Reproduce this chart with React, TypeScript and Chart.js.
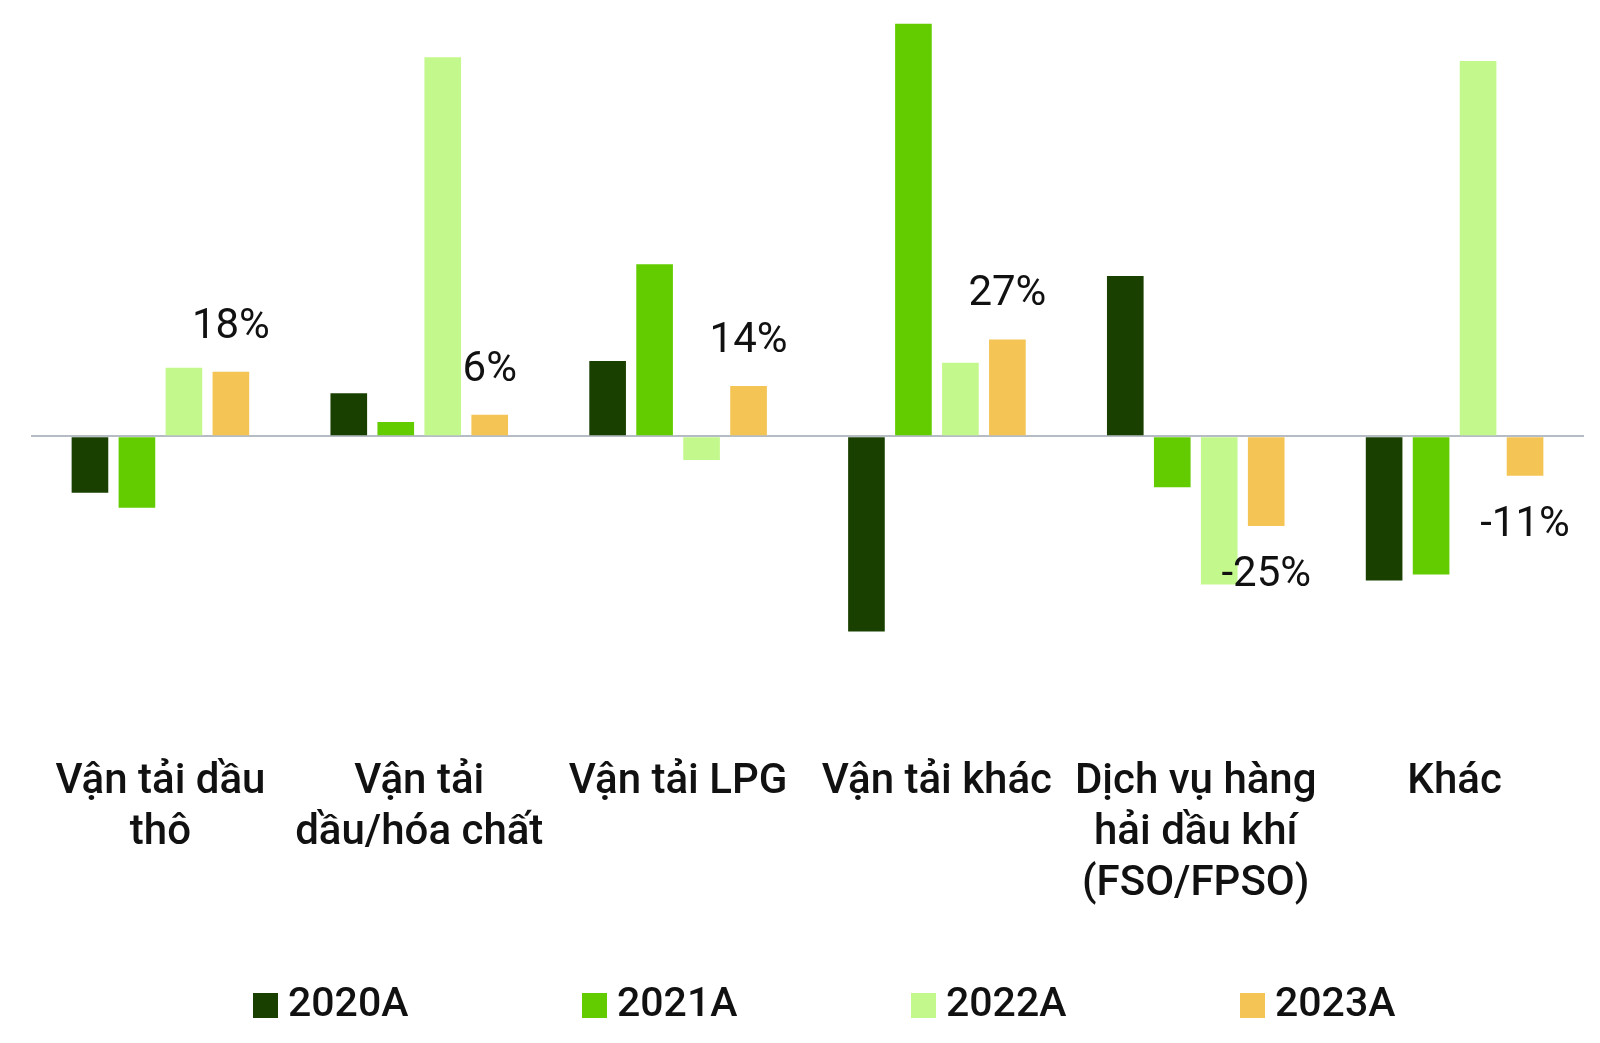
import React, { useEffect, useRef } from "react";
import { Chart, registerables } from "chart.js";

Chart.register(...registerables);

const categories: string[][] = [
  ["Vận tải dầu", "thô"],
  ["Vận tải", "dầu/hóa chất"],
  ["Vận tải LPG"],
  ["Vận tải khác"],
  ["Dịch vụ hàng", "hải dầu khí", "(FSO/FPSO)"],
  ["Khác"],
];
const seriesNames = ["2020A", "2021A", "2022A", "2023A"];
const values2020A = [-15.7, 12, 21, -54.4, 44.7, -40.2];
const values2021A = [-19.9, 4, 48, 115, -14.2, -38.5];
const values2022A = [19.1, 105.7, -6.6, 20.5, -41.3, 104.6];
const values2023A = [18, 6, 14, 27, -25, -11];
const labeledSeriesIndex = 3;
const yMin = -88;
const yMax = 118;

const seriesColors = ["#1a4000", "#63cc00", "#c3f98c", "#f4c454"];
const FONT = "Roboto";

const dataLabelPlugin = {
  id: "dataLabels2023",
  afterDatasetsDraw(chart: any) {
    const ctx = chart.ctx;
    const meta = chart.getDatasetMeta(labeledSeriesIndex);
    const ds = chart.data.datasets[labeledSeriesIndex];
    ctx.save();
    ctx.font = `42px ${FONT}`;
    ctx.fillStyle = "#111111";
    ctx.textAlign = "center";
    ctx.textBaseline = "alphabetic";
    meta.data.forEach((bar: any, i: number) => {
      const v = ds.data[i] as number;
      const y = v >= 0 ? bar.y - 34 : bar.y + 60;
      ctx.fillText(`${v}%`, bar.x, y);
    });
    ctx.restore();
  },
};

const legendPlugin = {
  id: "bottomLegend",
  afterDraw(chart: any) {
    const ctx = chart.ctx;
    const startX = 245;
    const spacing = 329;
    const boxTop = 985;
    const box = 25;
    const textGap = 10;
    const baseline = 1008;
    ctx.save();
    ctx.font = `500 41px ${FONT}`;
    ctx.textAlign = "left";
    ctx.textBaseline = "alphabetic";
    chart.data.datasets.forEach((ds: any, i: number) => {
      const x = startX + i * spacing;
      ctx.fillStyle = ds.backgroundColor;
      ctx.fillRect(x, boxTop, box, box);
      ctx.fillStyle = "#111111";
      ctx.fillText(ds.label, x + box + textGap, baseline);
    });
    ctx.restore();
  },
};

export default function App() {
  const canvasRef = useRef<HTMLCanvasElement>(null);

  useEffect(() => {
    const allValues = [values2020A, values2021A, values2022A, values2023A];
    const chart = new Chart(canvasRef.current!, {
      type: "bar",
      data: {
        labels: categories,
        datasets: seriesNames.map((name, i) => ({
          label: name,
          data: allValues[i],
          backgroundColor: seriesColors[i],
          borderWidth: 0,
          categoryPercentage: 0.726,
          barPercentage: 0.78,
        })),
      },
      options: {
        animation: false,
        responsive: true,
        maintainAspectRatio: false,
        layout: { padding: { top: 5, left: 23, right: 8, bottom: 120 } },
        plugins: {
          legend: { display: false },
          tooltip: { enabled: false },
          title: { display: false },
        },
        scales: {
          x: {
            grid: { display: false, drawTicks: false },
            border: { display: false },
            ticks: {
              color: "#111111",
              font: { family: FONT, size: 42, weight: 500, lineHeight: 1.214 },
              padding: 5,
              maxRotation: 0,
              minRotation: 0,
              autoSkip: false,
            },
          },
          y: {
            min: yMin,
            max: yMax,
            border: { display: false },
            grid: {
              drawTicks: false,
              lineWidth: 2,
              color: (c: any) => (c.tick && c.tick.value === 0 ? "#b6bcc4" : "rgba(0,0,0,0)"),
            },
            ticks: { display: false },
          },
        },
      },
      plugins: [dataLabelPlugin, legendPlugin],
    });
    return () => chart.destroy();
  }, []);

  return (
    <div style={{ width: 1584, height: 1027, position: "relative" }}>
      <canvas ref={canvasRef} />
    </div>
  );
}
